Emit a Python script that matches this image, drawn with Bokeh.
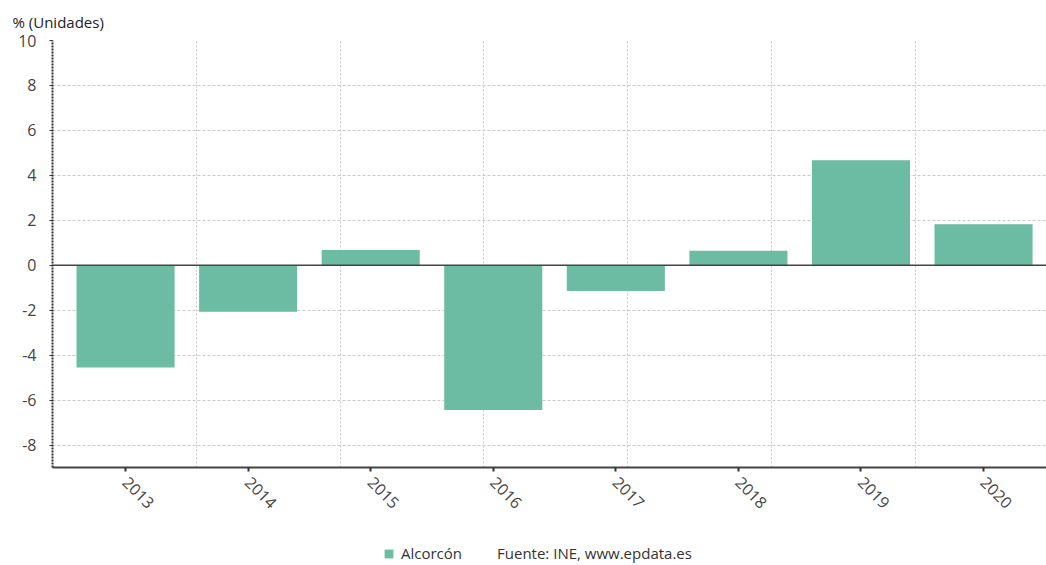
import math
from bokeh.plotting import figure
from bokeh.layouts import column
from bokeh.models import Range1d, FixedTicker, Span, Legend, LegendItem, ColumnDataSource
from bokeh.embed import file_html
from bokeh.resources import INLINE

# ---- data ----
years = ["2013", "2014", "2015", "2016", "2017", "2018", "2019", "2020"]
values = [-4.55, -2.07, 0.68, -6.44, -1.15, 0.65, 4.67, 1.82]
series_name = "Alcorcón"
source_text = "Fuente: INE, www.epdata.es"
unit_label = "% (Unidades)"
y_ticks = [10, 8, 6, 4, 2, 0, -2, -4, -6, -8]

FONT = "Open Sans"
BAR = "#6BBCA2"
TXT = "#444444"

xs = list(range(len(years)))
src = ColumnDataSource(dict(x=xs, top=values, year=years))

x_start = -0.596
frame_px = 994.0
unit_px = 122.57
x_end = x_start + frame_px / unit_px
p1 = figure(width=1046, height=530, output_backend="svg", toolbar_location=None,
            x_range=Range1d(x_start, x_end), y_range=Range1d(-9, 10),
            min_border_left=52, min_border_right=0, min_border_top=40,
            min_border_bottom=63)
p1.outline_line_color = None
p1.background_fill_color = "white"
p1.border_fill_color = "white"

bars = p1.vbar(x="x", top="top", bottom=0, width=0.8, source=src,
               fill_color=BAR, line_color=None)

# title
p1.title.text = unit_label
p1.title.text_font = FONT
p1.title.text_font_size = "15px"
p1.title.text_font_style = "normal"
p1.title.text_color = "#222222"
p1.title.align = "left"
p1.title.offset = -40
p1.title.standoff = 17

# y axis
ya = p1.yaxis[0]
ya.ticker = FixedTicker(ticks=y_ticks)
ya.major_label_overrides = {t: str(t) for t in y_ticks}
ya.axis_line_color = "#333333"
ya.axis_line_width = 2
ya.axis_line_dash = "2 1"
ya.major_tick_line_color = "#333333"
ya.major_tick_in = 0
ya.major_tick_out = 3
ya.minor_tick_line_color = None
ya.major_label_text_font = FONT
ya.major_label_text_font_size = "16px"
ya.major_label_text_color = TXT
ya.major_label_standoff = 13

# x axis
xa = p1.xaxis[0]
xa.ticker = FixedTicker(ticks=xs)
xa.major_label_overrides = {i: y for i, y in zip(xs, years)}
xa.axis_line_color = "#444444"
xa.axis_line_width = 2
xa.major_tick_line_color = "#333333"
xa.major_tick_line_width = 2
xa.major_tick_in = 0
xa.major_tick_out = 4
xa.minor_tick_line_color = None
xa.major_label_text_font = FONT
xa.major_label_text_font_size = "16px"
xa.major_label_text_color = TXT
xa.major_label_orientation = -math.pi / 4
xa.major_label_standoff = 8

# grids
p1.ygrid.ticker = FixedTicker(ticks=y_ticks)
p1.ygrid.grid_line_color = "#c8c8c8"
p1.ygrid.grid_line_dash = "3 2"
p1.ygrid.grid_line_width = 1

step = 143.8 / unit_px
p1.xgrid.ticker = FixedTicker(ticks=[x_start + k * step for k in range(1, 7)])
p1.xgrid.grid_line_color = "#c8c8c8"
p1.xgrid.grid_line_dash = "2 2"
p1.xgrid.grid_line_width = 1

# zero line
p1.add_layout(Span(location=0, dimension="width", line_color="#444444", line_width=1.5))

# ---- legend strip ----
p2 = figure(width=1046, height=35, output_backend="svg", toolbar_location=None,
            x_range=Range1d(0, 1), y_range=Range1d(20, 21),
            x_axis_location=None, y_axis_location=None,
            min_border_left=0, min_border_right=0, min_border_top=0, min_border_bottom=0)
p2.outline_line_color = None
p2.xgrid.visible = False
p2.ygrid.visible = False
# same data as the bars; the strip's y range keeps them out of view, only the swatch shows
swatch = p2.vbar(x="x", top="top", bottom=0, width=0.8, source=src,
                 fill_color=BAR, line_color=None)
dummy = p2.scatter(x="x", y="top", source=src, alpha=0)
legend = Legend(items=[LegendItem(label=series_name, renderers=[swatch]),
                       LegendItem(label=source_text, renderers=[dummy])],
                orientation="horizontal", location=(331, 2),
                padding=0, margin=0, spacing=17, glyph_width=11, glyph_height=11,
                label_standoff=7, label_height=14,
                label_text_font=FONT, label_text_font_size="15px",
                label_text_color="#333333", border_line_color=None,
                background_fill_alpha=0)
p2.add_layout(legend, "center")

p = column(p1, p2, spacing=0)
open("out.html", "w").write(file_html(p, INLINE))
